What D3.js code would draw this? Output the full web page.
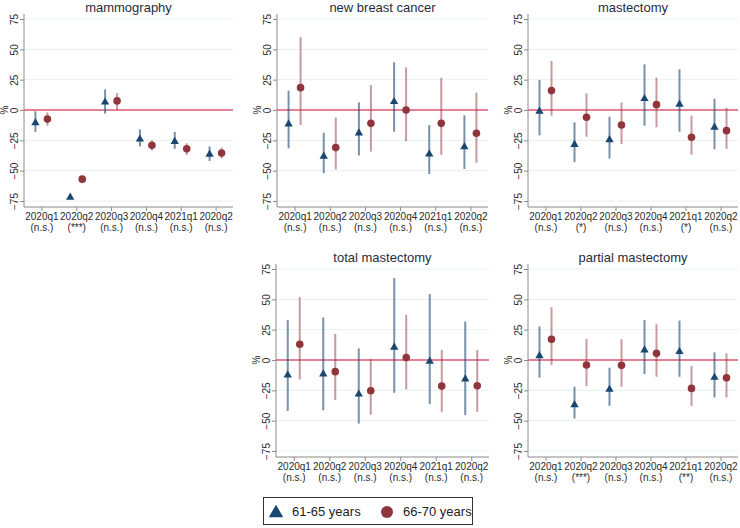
<!DOCTYPE html>
<html>
<head>
<meta charset="utf-8">
<script src="https://cdn.jsdelivr.net/npm/d3@7"></script>
<style>
  html, body { margin: 0; padding: 0; background: #fff; }
  svg { display: block; font-family: "Liberation Sans", Arial, sans-serif; }
</style>
</head>
<body>
<svg id="chart" width="740" height="528"></svg>
<script>
// ---- data ----
const quarters = ["2020q1", "2020q2", "2020q3", "2020q4", "2021q1", "2020q2"];
const yTicks = [75, 50, 25, 0, -25, -50, -75];
const seriesNames = ["61-65 years", "66-70 years"];

const panelTitles = ["mammography", "new breast cancer", "mastectomy", "total mastectomy", "partial mastectomy"];

const sigMammography = ["n.s.", "***", "n.s.", "n.s.", "n.s.", "n.s."];
const sigNewCancer   = ["n.s.", "n.s.", "n.s.", "n.s.", "n.s.", "n.s."];
const sigMastectomy  = ["n.s.", "*", "n.s.", "n.s.", "*", "n.s."];
const sigTotal       = ["n.s.", "n.s.", "n.s.", "n.s.", "n.s.", "n.s."];
const sigPartial     = ["n.s.", "***", "n.s.", "n.s.", "**", "n.s."];

// 61-65 years: estimate, lower CI, upper CI
const mammo6165    = [-10, -71.4, 7, -23.5, -25.5, -36];
const mammo6165Lo  = [-18, -73, -3, -30, -32, -42];
const mammo6165Hi  = [-1, -70, 17, -16, -18, -30];
// 66-70 years
const mammo6670    = [-7.5, -57, 7.5, -29, -32, -35.5];
const mammo6670Lo  = [-13, -59, 0, -33.5, -37, -40];
const mammo6670Hi  = [-2, -55, 14, -25, -27.5, -31];

const nbc6165   = [-11, -37.6, -18.4, 7.4, -35.7, -29.7];
const nbc6165Lo = [-31.6, -52, -37.4, -17.9, -52.7, -48.6];
const nbc6165Hi = [16, -18.7, 6.3, 39.3, -12.4, -4.4];
const nbc6670   = [18.4, -31, -11, 0, -11, -19.2];
const nbc6670Lo = [-12.4, -49, -34.3, -25.8, -37, -43.4];
const nbc6670Hi = [60, -6.3, 20.6, 35, 26.6, 14.3];

const mast6165   = [-0.5, -28, -24, 9.9, 5.2, -13.7];
const mast6165Lo = [-20.9, -43, -40, -12.9, -17.9, -32.4];
const mast6165Hi = [24.7, -10.2, -5.5, 37.6, 33.5, 9.3];
const mast6670   = [16, -6, -12.4, 4.4, -22.5, -17];
const mast6670Lo = [-4.7, -22, -28, -14.3, -36.8, -32];
const mast6670Hi = [40.4, 13.7, 6.3, 26.6, -4.7, 1.9];

const tot6165   = [-11.9, -11, -27.6, 11, -0.6, -15.2];
const tot6165Lo = [-42, -41.4, -52.4, -27, -36.4, -45.5];
const tot6165Hi = [33, 35, 9.6, 67.5, 54.3, 31.7];
const tot6670   = [13, -9.6, -25.4, 2, -21.5, -21.2];
const tot6670Lo = [-16, -33, -45, -24.3, -42.7, -42.7];
const tot6670Hi = [51.8, 21.5, 0.8, 37.2, 8.3, 8.3];

const part6165   = [4.1, -36.4, -23.7, 8.8, 7.4, -13.8];
const part6165Lo = [-14.6, -48.2, -37.8, -11.6, -13.8, -30.9];
const part6165Hi = [27.6, -22, -6.3, 33, 32.5, 6.3];
const part6670   = [17.1, -4.1, -4.4, 5.5, -23.4, -14.6];
const part6670Lo = [-4.1, -21.5, -22, -13.8, -38, -30.9];
const part6670Hi = [43.6, 17.4, 17.1, 29.5, -5, 5.5];

// ---- build panels ----
const panels = [
  { title: panelTitles[0], sig: sigMammography, a: [mammo6165, mammo6165Lo, mammo6165Hi], b: [mammo6670, mammo6670Lo, mammo6670Hi], box: { left: 24, right: 233, top: 0 } },
  { title: panelTitles[1], sig: sigNewCancer, a: [nbc6165, nbc6165Lo, nbc6165Hi], b: [nbc6670, nbc6670Lo, nbc6670Hi], box: { left: 277, right: 488, top: 0 } },
  { title: panelTitles[2], sig: sigMastectomy, a: [mast6165, mast6165Lo, mast6165Hi], b: [mast6670, mast6670Lo, mast6670Hi], box: { left: 528, right: 738, top: 0 } },
  { title: panelTitles[3], sig: sigTotal, a: [tot6165, tot6165Lo, tot6165Hi], b: [tot6670, tot6670Lo, tot6670Hi], box: { left: 276, right: 489, top: 250 } },
  { title: panelTitles[4], sig: sigPartial, a: [part6165, part6165Lo, part6165Hi], b: [part6670, part6670Lo, part6670Hi], box: { left: 528, right: 738, top: 250 } }
];

const navy = "#1a476f";
const maroon = "#90353b";
const zeroCol = "#de5a74";
const gridCol = "#e8f0f2";
const axisCol = "#8a8a8a";
const textCol = "#2a2a2a";

const svg = d3.select("#chart");
const triangle = d3.symbol().type(d3.symbolTriangle).size(30);
const triangleLg = d3.symbol().type(d3.symbolTriangle).size(90);

panels.forEach(p => {
  const t = p.box.top;
  const g = svg.append("g");
  const y = d3.scaleLinear().domain([-75, 75]).range([t + 201, t + 19]);
  const x = d3.scalePoint().domain(d3.range(quarters.length)).range([p.box.left, p.box.right]).padding(0.5);
  const axisTop = t + 14, axisBottom = t + 207;

  // title
  g.append("text")
    .attr("x", (p.box.left + p.box.right) / 2)
    .attr("y", t + 12)
    .attr("text-anchor", "middle")
    .attr("font-size", 13)
    .attr("fill", "#1f2d3d")
    .text(p.title);

  // gridlines
  g.selectAll(".grid").data(yTicks).enter().append("line")
    .attr("x1", p.box.left).attr("x2", p.box.right)
    .attr("y1", d => y(d)).attr("y2", d => y(d))
    .attr("stroke", gridCol).attr("stroke-width", 1);

  // y axis
  const yAxis = d3.axisLeft(y).tickValues(yTicks).tickSize(4).tickFormat(d3.format("d"));
  const ya = g.append("g").attr("transform", `translate(${p.box.left},0)`).call(yAxis);
  ya.select(".domain").remove();
  ya.append("line").attr("x1", 0).attr("x2", 0).attr("y1", axisTop).attr("y2", axisBottom)
    .attr("stroke", axisCol).attr("stroke-width", 1);
  ya.selectAll(".tick line").attr("stroke", axisCol);
  ya.selectAll(".tick text")
    .attr("x", null).attr("dy", null)
    .attr("transform", "translate(-6,0) rotate(-90)")
    .attr("text-anchor", "middle")
    .attr("font-size", 10)
    .attr("font-family", "Liberation Sans, Arial, sans-serif")
    .attr("fill", textCol);

  // y label
  g.append("text")
    .attr("transform", `translate(${p.box.left - 16},${y(0)}) rotate(-90)`)
    .attr("text-anchor", "middle")
    .attr("font-size", 10)
    .attr("fill", textCol)
    .text("%");

  // x axis
  const xAxis = d3.axisBottom(x).tickSize(4).tickFormat(() => "");
  const xa = g.append("g").attr("transform", `translate(0,${axisBottom})`).call(xAxis);
  xa.select(".domain").remove();
  xa.append("line").attr("x1", p.box.left).attr("x2", p.box.right).attr("y1", 0).attr("y2", 0)
    .attr("stroke", axisCol).attr("stroke-width", 1);
  xa.selectAll(".tick line").attr("stroke", axisCol);
  xa.selectAll(".tick").each(function(i) {
    const tg = d3.select(this);
    const tx = tg.append("text").attr("text-anchor", "middle").attr("font-size", 10)
      .attr("font-family", "Liberation Sans, Arial, sans-serif").attr("fill", textCol);
    tx.append("tspan").attr("x", 0).attr("y", 13).text(quarters[i]);
    tx.append("tspan").attr("x", 0).attr("y", 23.5).text("(" + p.sig[i] + ")");
  });

  // zero reference line
  g.append("line")
    .attr("x1", p.box.left).attr("x2", p.box.right)
    .attr("y1", y(0)).attr("y2", y(0))
    .attr("stroke", zeroCol).attr("stroke-width", 1.4);

  const off = 6;
  // CIs
  d3.range(quarters.length).forEach(i => {
    g.append("line")
      .attr("x1", x(i) - off).attr("x2", x(i) - off)
      .attr("y1", y(p.a[1][i])).attr("y2", y(p.a[2][i]))
      .attr("stroke", navy).attr("stroke-opacity", 0.6).attr("stroke-width", 2);
    g.append("line")
      .attr("x1", x(i) + off).attr("x2", x(i) + off)
      .attr("y1", y(p.b[1][i])).attr("y2", y(p.b[2][i]))
      .attr("stroke", maroon).attr("stroke-opacity", 0.5).attr("stroke-width", 2);
  });
  // markers
  g.selectAll(".tri").data(p.a[0]).enter().append("path")
    .attr("d", triangle)
    .attr("transform", (d, i) => `translate(${x(i) - off},${y(d) + 0.7})`)
    .attr("fill", navy);
  g.selectAll(".circ").data(p.b[0]).enter().append("circle")
    .attr("cx", (d, i) => x(i) + off)
    .attr("cy", d => y(d))
    .attr("r", 3.8)
    .attr("fill", maroon);
});

// legend
const lg = svg.append("g");
lg.append("rect").attr("x", 263.5).attr("y", 497.5).attr("width", 209).attr("height", 27)
  .attr("fill", "#fff").attr("stroke", "#333").attr("stroke-width", 1);
lg.append("path").attr("d", triangleLg).attr("transform", "translate(276,513)").attr("fill", navy);
lg.append("text").attr("x", 292).attr("y", 516).attr("font-size", 13).attr("fill", "#222").text(seriesNames[0]);
lg.append("circle").attr("cx", 387).attr("cy", 512).attr("r", 6).attr("fill", maroon);
lg.append("text").attr("x", 403).attr("y", 516).attr("font-size", 13).attr("fill", "#222").text(seriesNames[1]);
</script>
</body>
</html>
